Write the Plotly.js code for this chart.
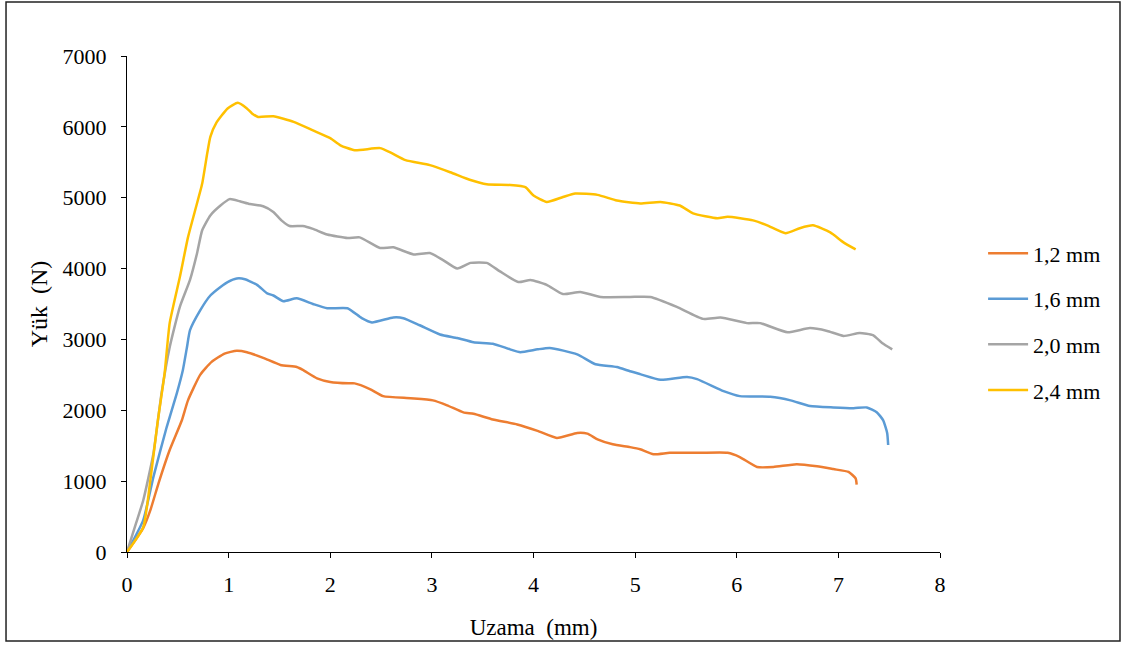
<!DOCTYPE html>
<html>
<head>
<meta charset="utf-8">
<script src="https://cdn.plot.ly/plotly-3.0.1.min.js"></script>
<style>html,body{margin:0;padding:0;background:#fff;}#chart{width:1124px;height:645px;}</style>
</head>
<body>
<div id="chart"></div>
<script>
const seriesNames = ['1,2 mm', '1,6 mm', '2,0 mm', '2,4 mm'];

const x12 = [0,0.16,0.23,0.31,0.42,0.54,0.60,0.72,0.83,0.96,1.08,1.18,1.34,1.51,1.67,1.73,1.87,2.0,2.18,2.24,2.39,2.52,2.79,3.01,3.15,3.31,3.41,3.60,3.84,4.04,4.23,4.43,4.53,4.63,4.78,4.95,5.05,5.18,5.34,5.64,5.91,6.03,6.20,6.36,6.59,6.79,6.95,7.10,7.17,7.18];
const y12 = [0,340,590,970,1440,1860,2140,2500,2680,2800,2840,2820,2740,2640,2610,2570,2450,2400,2380,2380,2300,2200,2170,2140,2070,1970,1950,1870,1800,1710,1610,1680,1670,1590,1520,1480,1450,1380,1400,1400,1400,1340,1200,1200,1240,1210,1170,1130,1040,950];

const x16 = [0,0.16,0.26,0.39,0.49,0.55,0.59,0.62,0.72,0.82,0.92,0.99,1.08,1.16,1.28,1.38,1.44,1.54,1.67,1.83,1.97,2.17,2.31,2.41,2.62,2.72,2.88,3.08,3.25,3.41,3.60,3.77,3.87,4.04,4.16,4.43,4.61,4.82,4.95,5.05,5.25,5.51,5.61,5.87,6.03,6.33,6.53,6.72,6.95,7.15,7.28,7.38,7.44,7.48,7.49];
const y16 = [0,450,1060,1760,2240,2570,2890,3130,3410,3620,3740,3810,3860,3850,3770,3650,3620,3540,3580,3500,3440,3440,3300,3240,3310,3300,3200,3070,3020,2960,2940,2860,2820,2860,2880,2790,2650,2610,2550,2510,2430,2470,2440,2270,2200,2190,2140,2060,2040,2030,2040,1970,1860,1680,1510];

const x20 = [0,0.09,0.16,0.26,0.34,0.42,0.52,0.62,0.69,0.74,0.82,0.92,1.01,1.11,1.21,1.34,1.44,1.52,1.60,1.73,1.83,1.97,2.17,2.29,2.49,2.62,2.82,2.98,3.11,3.25,3.38,3.54,3.67,3.85,3.97,4.13,4.29,4.46,4.66,4.95,5.15,5.41,5.67,5.84,6.10,6.23,6.50,6.72,6.89,7.05,7.21,7.34,7.43,7.53];
const y20 = [0,410,730,1390,2240,2890,3460,3840,4220,4540,4750,4890,4980,4950,4910,4880,4800,4680,4600,4600,4560,4480,4430,4440,4290,4300,4200,4220,4120,4000,4080,4080,3960,3810,3840,3770,3640,3670,3600,3600,3600,3460,3290,3310,3230,3230,3100,3160,3120,3050,3090,3060,2950,2860];

const x24 = [0,0.16,0.23,0.30,0.37,0.42,0.52,0.60,0.67,0.74,0.79,0.82,0.88,0.99,1.09,1.18,1.23,1.29,1.44,1.64,1.83,2.0,2.10,2.24,2.49,2.59,2.74,2.98,3.18,3.38,3.54,3.77,3.92,4.0,4.13,4.29,4.41,4.63,4.82,5.05,5.25,5.44,5.57,5.81,5.91,6.16,6.30,6.48,6.62,6.75,6.92,7.05,7.17];
const y24 = [0,350,1015,1820,2520,3230,3880,4440,4820,5200,5630,5860,6060,6260,6340,6260,6190,6140,6150,6070,5950,5840,5740,5670,5700,5640,5530,5460,5360,5250,5190,5180,5150,5030,4940,5010,5060,5040,4960,4920,4940,4890,4780,4710,4730,4680,4610,4500,4570,4610,4510,4370,4270];

const xTicks = [0,1,2,3,4,5,6,7,8];
const yTicks = [0,1000,2000,3000,4000,5000,6000,7000];

const colors = ['#ED7D31', '#5B9BD5', '#A5A5A5', '#FFC000'];
const xs = [x12, x16, x20, x24];
const ys = [y12, y16, y20, y24];

const font = '"Times New Roman", "Liberation Serif", Tinos, "DejaVu Serif", "Noto Serif", serif';

const traces = seriesNames.map((n, i) => ({
  x: xs[i], y: ys[i], name: n, type: 'scatter', mode: 'lines',
  legendgroup: 'g' + i,
  line: {color: colors[i], width: 2.5, shape: 'spline', smoothing: 0.5}
}));

const layout = {
  width: 1124, height: 645,
  margin: {l: 127, r: 184, t: 56, b: 93},
  paper_bgcolor: '#fff', plot_bgcolor: '#fff',
  font: {family: font, size: 22, color: '#000'},
  showlegend: true,
  legend: {x: 1.053, xanchor: 'left', y: 0.464, yanchor: 'middle',
           font: {family: font, size: 22, color: '#000'},
           itemwidth: 40,
           traceorder: 'grouped', tracegroupgap: 14, bgcolor: 'rgba(0,0,0,0)'},
  xaxis: {range: [0, 8], tickvals: xTicks, ticktext: xTicks.map(String),
          showgrid: false, zeroline: false, showline: true, linecolor: '#000', linewidth: 1,
          ticks: 'outside', ticklen: 5, tickcolor: '#000', fixedrange: true,
          ticklabelstandoff: 8,
          tickfont: {family: font, size: 22, color: '#000'},
          title: {text: 'Uzama\u00a0 (mm)', font: {family: font, size: 23, color: '#000'}, standoff: 22}},
  yaxis: {range: [0, 7000], tickvals: yTicks, ticktext: yTicks.map(String),
          showgrid: false, zeroline: false, showline: true, linecolor: '#000', linewidth: 1,
          ticks: 'outside', ticklen: 5, tickcolor: '#000', fixedrange: true,
          ticklabelstandoff: 10,
          tickfont: {family: font, size: 22, color: '#000'},
          title: {text: 'Yük\u00a0 (N)', font: {family: font, size: 24, color: '#000'}, standoff: 8}},
  shapes: [{type: 'rect', xref: 'paper', yref: 'paper',
            x0: -0.1488, x1: 1.2214, y0: -0.1794, y1: 1.1089,
            line: {color: '#222', width: 1.5}, fillcolor: 'rgba(0,0,0,0)', layer: 'below'}]
};

Plotly.newPlot('chart', traces, layout, {displayModeBar: false, staticPlot: true});
</script>
</body>
</html>
